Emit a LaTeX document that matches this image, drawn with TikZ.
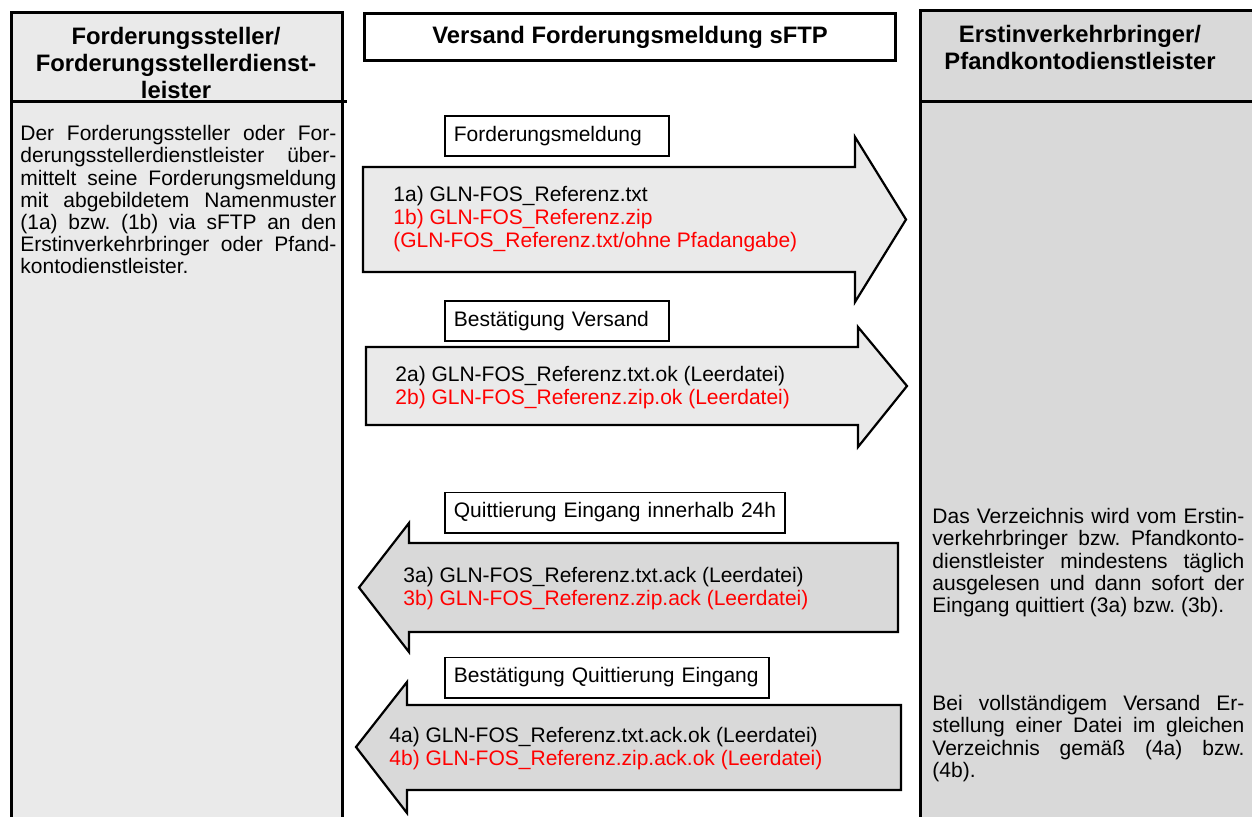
\documentclass[tikz,border=0pt]{standalone}
\usepackage{fontspec}
\setmainfont{Liberation Sans}
\usepackage{xcolor}
\usetikzlibrary{positioning}
\frenchspacing

\definecolor{hellgrau}{HTML}{EAEAEA}
\definecolor{dunkelgrau}{HTML}{D9D9D9}
\definecolor{rot}{HTML}{FF0000}

\newcommand{\normalschrift}{\fontsize{10.5}{11.1}\selectfont}
\newcommand{\dateischrift}{\fontsize{10.5}{11.5}\selectfont}
\newcommand{\kopfschrift}{\bfseries\fontsize{11.9}{13.4}\selectfont}

\tikzstyle{spalte} = [draw=black, line width=1.8pt]
\tikzstyle{trennlinie} = [draw=black, line width=1.9pt]
\tikzstyle{kopf} = [align=center, font=\kopfschrift, inner sep=0pt]
\tikzstyle{titel} = [
    rectangle,
    draw=black,
    line width=1.5pt,
    fill=white,
    minimum width=265.5pt,
    minimum height=23.5pt,
    font=\kopfschrift
]
\tikzstyle{etikett} = [
    rectangle,
    draw=black,
    line width=0.9pt,
    fill=white,
    anchor=west,
    align=left,
    inner xsep=4.5pt,
    minimum height=20.1pt,
    font=\normalschrift
]
\tikzstyle{pfeil} = [draw=black, line width=1.1pt, line join=miter]
\tikzstyle{dateien} = [anchor=west, align=left, inner sep=0pt, font=\dateischrift]
\tikzstyle{beschreibung} = [anchor=north west, align=justify, inner sep=0pt, font=\normalschrift]

\begin{document}
\begin{tikzpicture}[x=0.5pt, y=-0.5pt]
    \useasboundingbox (0,0) rectangle (1252,816);
    % Spalten
    \filldraw[spalte, fill=hellgrau] (11.5,830) -- (11.5,12.5) -- (342.5,12.5) -- (342.5,830);
    \fill[dunkelgrau] (920.5,830) rectangle (1262,10.5);
    \draw[spalte] (920.5,830) -- (920.5,10.5) -- (1262,10.5);
    \node (kopflinks) [kopf] at (176,63) {Forderungssteller/\\Forderungsstellerdienst-\\leister};
    \node (kopfrechts) [kopf] at (1080,47.5) {Erstinverkehrbringer/\\Pfandkontodienstleister};
    \node (titel) [titel] at (630,37) {Versand Forderungsmeldung sFTP};
    \draw[trennlinie] (13,101.5) -- (347,101.5);
    \draw[trennlinie] (922,101.5) -- (1262,101.5);
    % Texte der Spalten
    \node (textlinks) [beschreibung, text width=158pt] at (20,125) {Der Forderungssteller oder For-\linebreak
        derungsstellerdienstleister  über-\linebreak
        mittelt seine Forderungsmeldung\linebreak
        mit abgebildetem Namenmuster\linebreak
        (1a) bzw. (1b) via sFTP an den\linebreak
        Erstinverkehrbringer oder Pfand-\linebreak
        kontodienstleister.};
    \node (textrechts1) [beschreibung, text width=156pt] at (932,508) {Das Verzeichnis wird vom Erstin-\linebreak
        verkehrbringer bzw. Pfandkonto-\linebreak
        dienstleister mindestens täglich\linebreak
        ausgelesen und dann sofort der\linebreak
        Eingang quittiert (3a) bzw. (3b).};
    \node (textrechts2) [beschreibung, text width=156pt] at (932,695) {Bei vollständigem Versand Er-\linebreak
        stellung einer Datei im gleichen\linebreak
        Verzeichnis gemäß (4a) bzw.\linebreak
        (4b).};
    % Pfeile
    \filldraw[pfeil, fill=hellgrau] (363,167) -- (855,167) -- (855,137) -- (906,219.5) -- (855,302) -- (855,272) -- (363,272) -- cycle;
    \filldraw[pfeil, fill=hellgrau] (366,347) -- (858,347) -- (858,327) -- (907,386) -- (858,447) -- (858,425) -- (366,425) -- cycle;
    \filldraw[pfeil, fill=dunkelgrau] (898,543) -- (409,543) -- (409,523) -- (359,587.5) -- (409,652) -- (409,632) -- (898,632) -- cycle;
    \filldraw[pfeil, fill=dunkelgrau] (901,705) -- (407,705) -- (407,682) -- (356,747) -- (407,813) -- (407,790) -- (901,790) -- cycle;
    \node (datei1) [dateien] at (393,219) {1a) GLN-FOS\_Referenz.txt\\
        \textcolor{rot}{1b) GLN-FOS\_Referenz.zip}\\
        \textcolor{rot}{(GLN-FOS\_Referenz.txt/ohne Pfadangabe)}};
    \node (datei2) [dateien] at (395,388) {2a) GLN-FOS\_Referenz.txt.ok (Leerdatei)\\
        \textcolor{rot}{2b) GLN-FOS\_Referenz.zip.ok (Leerdatei)}};
    \node (datei3) [dateien] at (403,588.5) {3a) GLN-FOS\_Referenz.txt.ack (Leerdatei)\\
        \textcolor{rot}{3b) GLN-FOS\_Referenz.zip.ack (Leerdatei)}};
    \node (datei4) [dateien] at (389,748.5) {4a) GLN-FOS\_Referenz.txt.ack.ok (Leerdatei)\\
        \textcolor{rot}{4b) GLN-FOS\_Referenz.zip.ack.ok (Leerdatei)}};
    % Beschriftungen
    \node (schritt1) [etikett, text width=103pt] at (444,136) {Forderungsmeldung};
    \node (schritt2) [etikett, text width=103pt] at (444,321) {Bestätigung Versand};
    \node (schritt3) [etikett, text width=161pt] at (444,512.5) {\mbox{Quittierung Eingang innerhalb 24h}};
    \node (schritt4) [etikett, text width=153pt] at (444,677.5) {\mbox{Bestätigung Quittierung Eingang}};
\end{tikzpicture}
\end{document}
